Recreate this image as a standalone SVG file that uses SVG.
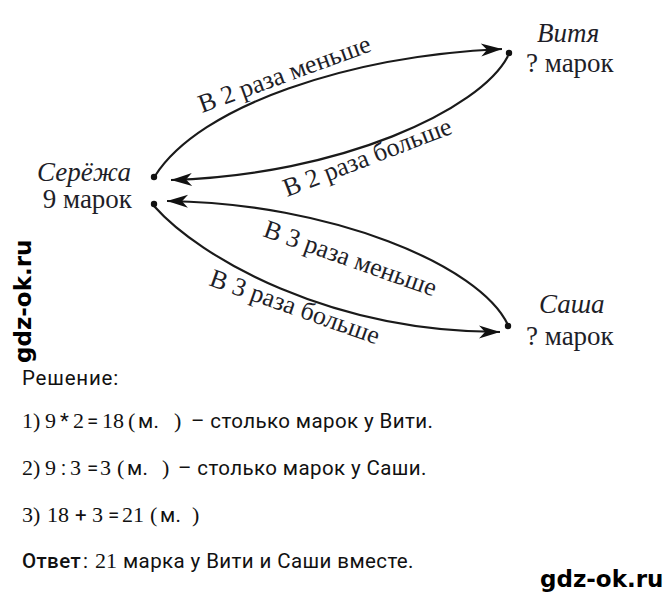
<svg xmlns="http://www.w3.org/2000/svg" width="668" height="600" viewBox="0 0 668 600">
<style>
.lbl{font-family:"Liberation Serif",serif;font-size:26px;fill:#1e1e28}
.name{font-family:"Liberation Serif",serif;font-style:italic;font-size:27px;fill:#1e1e28}
.cnt{font-family:"Liberation Serif",serif;font-size:27px;fill:#1e1e28}
.edge{fill:none;stroke:#1a1a1a;stroke-width:2.2}
.dot{fill:#111}
.sans{font-family:Roboto,"Liberation Sans",sans-serif;font-size:20.5px;letter-spacing:0.4px;fill:#111}
.ser{font-family:"Liberation Serif",serif;font-size:22px;letter-spacing:0}
.wm{font-family:"DejaVu Sans",sans-serif;font-weight:bold;font-size:23px;fill:#000}
</style>
<defs>
<marker id="ah" markerUnits="userSpaceOnUse" markerWidth="26" markerHeight="16" viewBox="-22 -8 24 16" refX="0" refY="0" orient="auto">
<path d="M0,0 L-21,-6.5 L-15,0 L-21,6.5 Z" fill="#111"/>
</marker>
</defs>
<rect width="668" height="600" fill="#fff"/>
<g id="connectors">
<path class="edge" d="M155,176 C200,105 350,56 502,49" marker-end="url(#ah)"/>
<path class="edge" d="M508,56 C480,110 340,175 171,180" marker-end="url(#ah)"/>
<path class="edge" d="M508,325 C480,265 330,203 167,201" marker-end="url(#ah)"/>
<path class="edge" d="M154,206 C200,258 330,332 500,332" marker-end="url(#ah)"/>
<text class="lbl" transform="translate(202,113) rotate(-20)">В 2 раза меньше</text>
<text class="lbl" transform="translate(287,197) rotate(-21)">В 2 раза больше</text>
<text class="lbl" transform="translate(262,236) rotate(19.5)">В 3 раза меньше</text>
<text class="lbl" transform="translate(208,285) rotate(19.5)">В 3 раза больше</text>
</g>
<g id="seryozha">
<circle class="dot" cx="154" cy="177" r="3.2"/>
<circle class="dot" cx="154" cy="204" r="3.2"/>
<text class="name" x="131" y="181" text-anchor="end">Серёжа</text>
<text class="cnt" x="132" y="208" text-anchor="end">9 марок</text>
</g>
<g id="vitya">
<circle class="dot" cx="509" cy="53" r="3.2"/>
<text class="name" x="537" y="42">Витя</text>
<text class="cnt" x="526" y="72">? марок</text>
</g>
<g id="sasha">
<circle class="dot" cx="508" cy="326" r="3.2"/>
<text class="name" x="539" y="313">Саша</text>
<text class="cnt" x="526" y="345">? марок</text>
</g>
<g id="solution">
<text class="sans" x="22" y="385" style="letter-spacing:0.8px">Решение:</text>
<text class="sans" y="428"><tspan class="ser" x="22">1)</tspan><tspan class="ser" x="45">9</tspan><tspan x="60">*</tspan><tspan class="ser" x="73">2</tspan><tspan x="87">=</tspan><tspan class="ser" x="102">18</tspan><tspan class="ser" x="128">(</tspan><tspan x="138">м.</tspan><tspan class="ser" x="174">)</tspan><tspan x="191">– столько марок у Вити.</tspan></text>
<text class="sans" y="475"><tspan class="ser" x="22">2)</tspan><tspan class="ser" x="45">9</tspan><tspan x="61">:</tspan><tspan class="ser" x="70">3</tspan><tspan x="87">=</tspan><tspan class="ser" x="100">3</tspan><tspan class="ser" x="117">(</tspan><tspan x="127">м.</tspan><tspan class="ser" x="162">)</tspan><tspan x="178">– столько марок у Саши.</tspan></text>
<text class="sans" y="522"><tspan class="ser" x="22">3)</tspan><tspan class="ser" x="47">18</tspan><tspan x="75">+</tspan><tspan class="ser" x="92">3</tspan><tspan x="108">=</tspan><tspan class="ser" x="122">21</tspan><tspan class="ser" x="150">(</tspan><tspan x="160">м.</tspan><tspan class="ser" x="192">)</tspan></text>
<text class="sans" y="568"><tspan x="22" font-weight="500">Ответ</tspan><tspan x="83">:</tspan><tspan class="ser" x="95">21</tspan><tspan x="123">марка у Вити и Саши вместе.</tspan></text>
</g>
<g id="watermarks">
<text class="wm" transform="translate(31,363) rotate(-90)">gdz-ok.ru</text>
<text class="wm" x="540" y="587">gdz-ok.ru</text>
</g>
</svg>
